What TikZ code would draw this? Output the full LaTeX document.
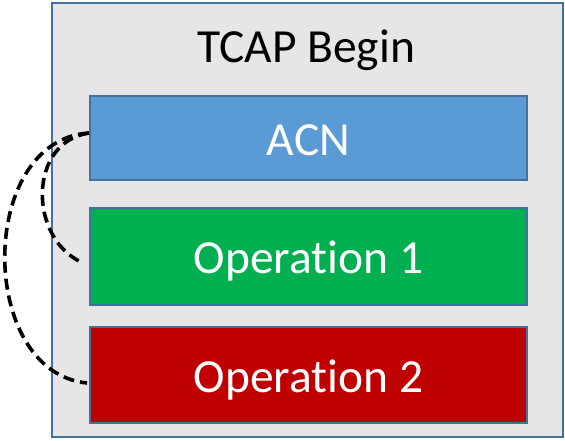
\documentclass[tikz,border=0pt]{standalone}
\usepackage{fontspec}
\setmainfont[Ligatures={NoCommon}]{Carlito}
\definecolor{framegrey}{HTML}{E7E6E6}
\definecolor{edgeblue}{HTML}{41719C}
\definecolor{acnblue}{HTML}{5B9BD5}
\definecolor{opgreen}{HTML}{00B050}
\definecolor{opred}{HTML}{C00000}
\begin{document}
\begin{tikzpicture}[x=1pt,y=-1pt,
  bigtext/.style={font=\fontsize{47.5}{52}\selectfont},
  fieldbox/.style={draw=edgeblue, line width=2pt, minimum width=437pt, inner sep=0pt, text=white, bigtext, text height=36pt, text depth=1.6pt},
  link/.style={line width=3.6pt, dash pattern=on 11pt off 6pt, black}]
\useasboundingbox (0,0) rectangle (565,440);
\node[draw=edgeblue, fill=framegrey, line width=2pt, minimum width=511pt, minimum height=434pt, inner sep=0pt] (frame) at (307.5,220) {};
\node[bigtext, text=black] (title) at (306,50) {TCAP Begin};
\node[fieldbox, fill=acnblue, minimum height=84pt] (acn) at (308.5,138) {ACN};
\node[fieldbox, fill=opgreen, minimum height=97pt] (op1) at (308.5,256.5) {Operation 1};
\node[fieldbox, fill=opred, minimum height=96pt] (op2) at (308.5,375) {Operation 2};
\draw[link] ([yshift=5pt]acn.west) .. controls (28,142) and (28,238) .. ([xshift=-7pt,yshift=-6pt]op1.west);
\draw[link] ([yshift=5pt]acn.west) .. controls (-23,140) and (-23,372) .. ([xshift=-2pt,yshift=-8pt]op2.west);
\end{tikzpicture}
\end{document}
